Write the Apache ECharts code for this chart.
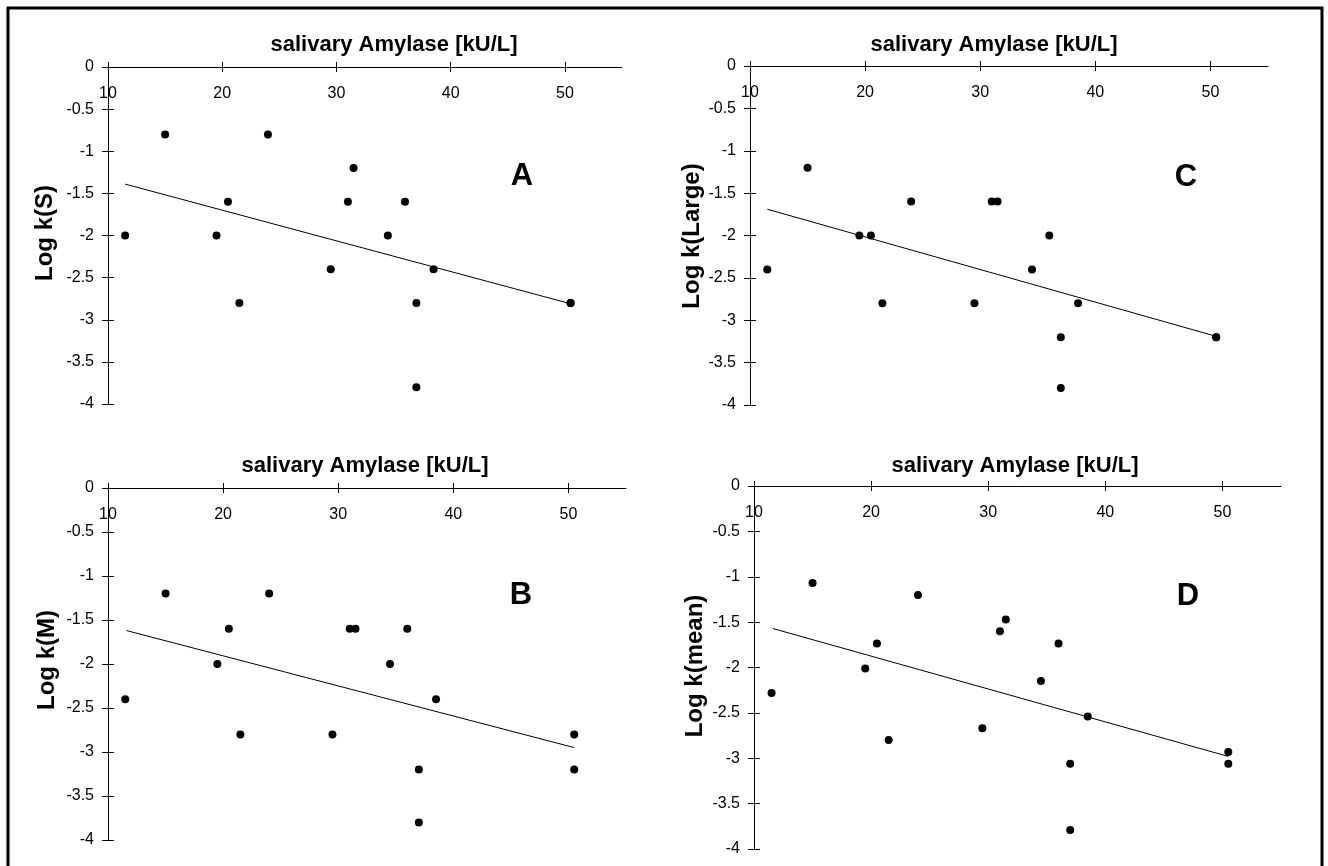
<!DOCTYPE html>
<html>
<head>
<meta charset="utf-8">
<script src="https://cdn.jsdelivr.net/npm/echarts@6/dist/echarts.min.js"></script>
<style>
    html, body { margin: 0; padding: 0; background: #fff; }
    #chart { width: 1328px; height: 866px; }
</style>
</head>
<body>
<div id="chart"></div>
<script>
// salivary amylase per subject (same x for all 4 panels)
const amylase = [11.5, 15, 19.5, 20.5, 21.5, 24, 29.5, 31, 31.5, 34.5, 36, 37, 37, 38.5, 50.5, 50.5];

const logkS     = [-2.0, -0.8, -2.0, -1.6, -2.8, -0.8, -2.4, -1.6, -1.2, -2.0, -1.6, -2.8, -3.8, -2.4, -2.8, -2.8];
const logkM     = [-2.4, -1.2, -2.0, -1.6, -2.8, -1.2, -2.8, -1.6, -1.6, -2.0, -1.6, -3.2, -3.8, -2.4, -2.8, -3.2];
const logkLarge = [-2.4, -1.2, -2.0, -2.0, -2.8, -1.6, -2.8, -1.6, -1.6, -2.4, -2.0, -3.2, -3.8, -2.8, -3.2, -3.2];
const logkMean  = [-2.28, -1.07, -2.01, -1.735, -2.8, -1.2, -2.67, -1.6, -1.47, -2.15, -1.735, -3.06, -3.79, -2.54, -2.93, -3.06];

// trend lines, end points
const fitS     = [[11.5, -1.39], [50.5, -2.81]];
const fitM     = [[11.6, -1.62], [50.5, -2.95]];
const fitLarge = [[11.5, -1.69], [50.5, -3.19]];
const fitMean  = [[11.6, -1.57], [50.5, -2.98]];

const xTicks = [10, 20, 30, 40, 50];
const xTitle = 'salivary Amylase [kU/L]';

const FONT = '"Liberation Sans", Arial, sans-serif';

const panels = [
    {tag: 'A', yName: 'Log k(S)',     ys: logkS,     fit: fitS,
        grid: {left: 108, top: 67, width: 514, height: 337},  title: [394, 45],  name: [45, 233],  tagAt: [522, 176]},
    {tag: 'B', yName: 'Log k(M)',     ys: logkM,     fit: fitM,
        grid: {left: 108, top: 488, width: 518, height: 352}, title: [365, 466], name: [47, 660],  tagAt: [521, 595]},
    {tag: 'C', yName: 'Log k(Large)', ys: logkLarge, fit: fitLarge,
        grid: {left: 750, top: 66, width: 518, height: 339},  title: [994, 45],  name: [692, 236], tagAt: [1186, 177]},
    {tag: 'D', yName: 'Log k(mean)',  ys: logkMean,  fit: fitMean,
        grid: {left: 754, top: 486, width: 527, height: 363}, title: [1015, 466], name: [695, 666], tagAt: [1188, 596]}
];

function buildOption() {
    let grid = [], xAxis = [], yAxis = [], series = [], graphic = [];

    // outer frame
    graphic.push({
        type: 'rect', shape: {x: 8, y: 8, width: 1314, height: 900},
        style: {fill: 'none', stroke: '#000', lineWidth: 3}, silent: true
    });

    panels.forEach(function (p, i) {
        grid.push(p.grid);

        // main x axis (line, labels, ticks up) + helper axis for the ticks going down
        xAxis.push({
            gridIndex: i, type: 'value', position: 'top', min: 10, max: 55,
            axisLine: {onZero: false, lineStyle: {color: '#000', width: 1}},
            axisTick: {customValues: xTicks, length: 5, lineStyle: {color: '#000'}},
            axisLabel: {customValues: xTicks, inside: true, margin: 19, color: '#000', fontSize: 16, fontFamily: FONT},
            splitLine: {show: false}
        });
        xAxis.push({
            gridIndex: i, type: 'value', position: 'top', min: 10, max: 55,
            axisLine: {show: false},
            axisTick: {customValues: xTicks, inside: true, length: 5, lineStyle: {color: '#000'}},
            axisLabel: {show: false},
            splitLine: {show: false}
        });

        yAxis.push({
            gridIndex: i, type: 'value', position: 'left', min: -4, max: 0, interval: 0.5,
            axisLine: {onZero: false, lineStyle: {color: '#000', width: 1}},
            axisTick: {length: 6, lineStyle: {color: '#000'}},
            axisLabel: {margin: 14, color: '#000', fontSize: 16, fontFamily: FONT},
            splitLine: {show: false}
        });
        yAxis.push({
            gridIndex: i, type: 'value', position: 'left', min: -4, max: 0, interval: 0.5,
            axisLine: {show: false},
            axisTick: {inside: true, length: 6, lineStyle: {color: '#000'}},
            axisLabel: {show: false},
            splitLine: {show: false}
        });

        series.push({
            type: 'scatter', xAxisIndex: 2 * i, yAxisIndex: 2 * i,
            data: amylase.map(function (x, k) { return [x, p.ys[k]]; }),
            symbol: 'circle', symbolSize: 8,
            itemStyle: {color: '#000', opacity: 1}
        });
        series.push({
            type: 'line', xAxisIndex: 2 * i, yAxisIndex: 2 * i,
            data: p.fit, showSymbol: false, silent: true,
            lineStyle: {color: '#000', width: 1}
        });

        graphic.push({
            type: 'text', x: p.title[0], y: p.title[1],
            style: {text: xTitle, textAlign: 'center', textVerticalAlign: 'middle',
                fontSize: 22, fontWeight: 'bold', fontFamily: FONT, fill: '#000'}
        });
        graphic.push({
            type: 'text', x: p.name[0], y: p.name[1], rotation: Math.PI / 2,
            style: {text: p.yName, textAlign: 'center', textVerticalAlign: 'middle',
                fontSize: 24, fontWeight: 'bold', fontFamily: FONT, fill: '#000'}
        });
        graphic.push({
            type: 'text', x: p.tagAt[0], y: p.tagAt[1],
            style: {text: p.tag, textAlign: 'center', textVerticalAlign: 'middle',
                fontSize: 31, fontWeight: 'bold', fontFamily: FONT, fill: '#000'}
        });
    });

    return {
        animation: false,
        backgroundColor: '#fff',
        grid: grid, xAxis: xAxis, yAxis: yAxis,
        series: series, graphic: graphic
    };
}

let chart = echarts.init(document.getElementById('chart'));
chart.setOption(buildOption());
</script>
</body>
</html>
